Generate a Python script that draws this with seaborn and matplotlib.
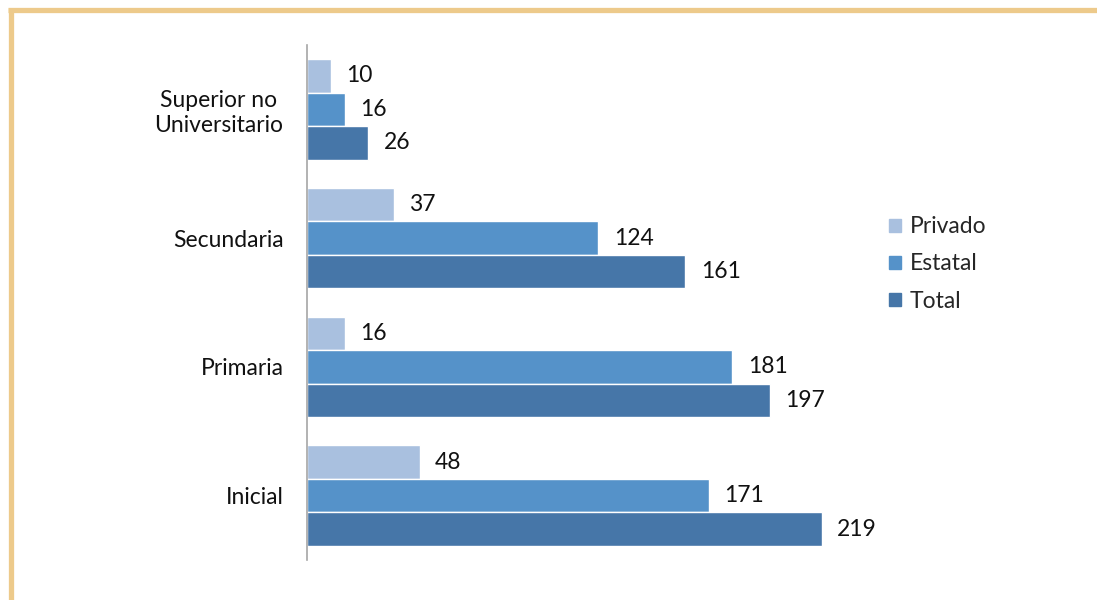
import pandas as pd
import matplotlib.pyplot as plt
import seaborn as sns
from matplotlib.lines import Line2D

# Data
niveles = ['Superior no\nUniversitario', 'Secundaria', 'Primaria', 'Inicial']
privado = [10, 37, 16, 48]
estatal = [16, 124, 181, 171]
total = [26, 161, 197, 219]
series = ['Privado', 'Estatal', 'Total']
colores = ['#A9C0DF', '#5592C9', '#4676A8']

df = pd.DataFrame({
    'nivel': niveles * 3,
    'tipo': ['Privado'] * 4 + ['Estatal'] * 4 + ['Total'] * 4,
    'valor': privado + estatal + total,
})

sns.set_style("white")
plt.rcParams['font.family'] = ['Lato', 'DejaVu Sans']

fig = plt.figure(figsize=(10.97, 6.0), dpi=100)
ax = fig.add_axes([307 / 1097, 40 / 600, 564 / 1097, 515 / 600])

sns.barplot(data=df, y='nivel', x='valor', hue='tipo', order=niveles,
            hue_order=series, palette=colores, orient='h', width=0.78,
            edgecolor='white', linewidth=1, saturation=1, ax=ax, legend=False)

for cont in ax.containers:
    ax.bar_label(cont, labels=[f'{v:.0f}' for v in cont.datavalues],
                 padding=11, fontsize=16.5, color='#111111')

ax.set_xlim(0, 240)
ax.set_ylim(3.5, -0.5)
ax.set_xlabel('')
ax.set_ylabel('')
ax.set_xticks([])
ax.tick_params(axis='y', length=0, pad=17, labelsize=16.5, labelcolor='#111111')
for lbl in ax.get_yticklabels():
    lbl.set_multialignment('center')
for s in ['top', 'right', 'bottom']:
    ax.spines[s].set_visible(False)
ax.spines['left'].set_color('#A6A6A6')
ax.spines['left'].set_linewidth(1.2)

handles = [plt.Rectangle((0, 0), 1, 1, color=c) for c in colores]
fig.legend(handles, series, loc='center left', bbox_to_anchor=(880 / 1097, 1 - 264 / 600),
           frameon=False, fontsize=16.5, handlelength=0.5, handleheight=0.5,
           handletextpad=0.4, labelspacing=0.7, borderaxespad=0)

# marco
borde = '#EDCA8B'
fig.add_artist(Line2D([8 / 1097, 1], [1 - 9.5 / 600] * 2, color=borde, lw=3.8,
                      solid_capstyle='butt', transform=fig.transFigure))
fig.add_artist(Line2D([10.5 / 1097] * 2, [0, 1 - 7.5 / 600], color=borde, lw=3.8,
                      solid_capstyle='butt', transform=fig.transFigure))

fig.savefig('out.png', dpi=100)
